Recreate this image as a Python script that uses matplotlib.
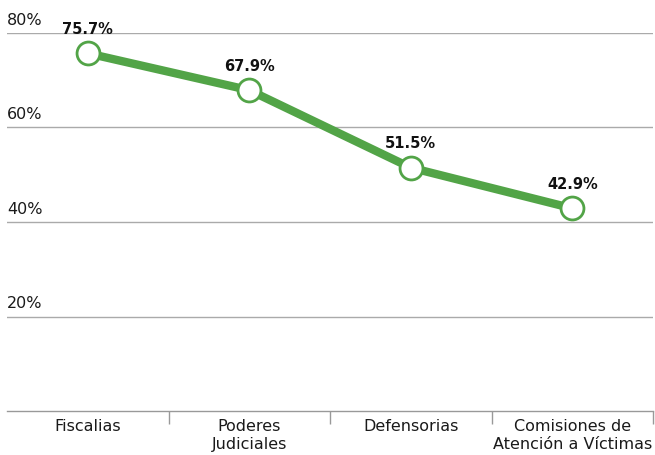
import matplotlib
matplotlib.use("Agg")
import matplotlib.pyplot as plt
import matplotlib.transforms as mtransforms

categories = ["Fiscalias", "Poderes\nJudiciales", "Defensorias", "Comisiones de\nAtención a Víctimas"]
values = [75.7, 67.9, 51.5, 42.9]
yticks = [20, 40, 60, 80]
ytick_labels = ["20%", "40%", "60%", "80%"]

plt.rcParams['font.family'] = ['DejaVu Sans']

fig = plt.figure(figsize=(6.55, 4.55), dpi=100)
ax = fig.add_axes([7/655, 1 - 411/455, (653 - 7)/655, (411 - 33)/455])

green = "#52a447"
x = list(range(len(categories)))
ax.plot(x, values, color=green, lw=6, solid_capstyle='butt', zorder=3,
        marker='o', markersize=16.5, markerfacecolor='white', markeredgecolor=green,
        markeredgewidth=2)
for xi, v in zip(x, values):
    ax.annotate(f"{v:.1f}%", (xi, v), xytext=(0, 12), textcoords='offset points',
                ha='center', va='bottom', fontsize=10.5, fontweight='bold', color='#111111')

ax.set_xlim(-0.5, len(categories) - 0.5)
ax.set_ylim(0, 80)
for s in ['top', 'right', 'left']:
    ax.spines[s].set_visible(False)
ax.spines['bottom'].set_color('#999999')
ax.spines['bottom'].set_linewidth(1)

ax.set_yticks(yticks)
ax.set_yticklabels([])
ax.tick_params(axis='y', length=0)
ax.grid(axis='y', color='#aaaaaa', lw=1)
ax.set_axisbelow(True)

trans = mtransforms.blended_transform_factory(ax.transAxes, ax.transData)
offset = mtransforms.ScaledTranslation(0, 5/100, fig.dpi_scale_trans)
for yv, lab in zip(yticks, ytick_labels):
    ax.text(0.0, yv, lab, transform=trans + offset, ha='left', va='bottom', fontsize=11.5,
            color='#1a1a1a')

ax.set_xticks(x)
ax.set_xticklabels(categories, fontsize=11.5, color='#1a1a1a', linespacing=1.25)
ax.tick_params(axis='x', length=0, pad=6)
ax.set_xticks([i + 0.5 for i in range(len(categories))], minor=True)
ax.tick_params(axis='x', which='minor', length=9, color='#999999', width=1)

fig.savefig("out.png", dpi=100)
